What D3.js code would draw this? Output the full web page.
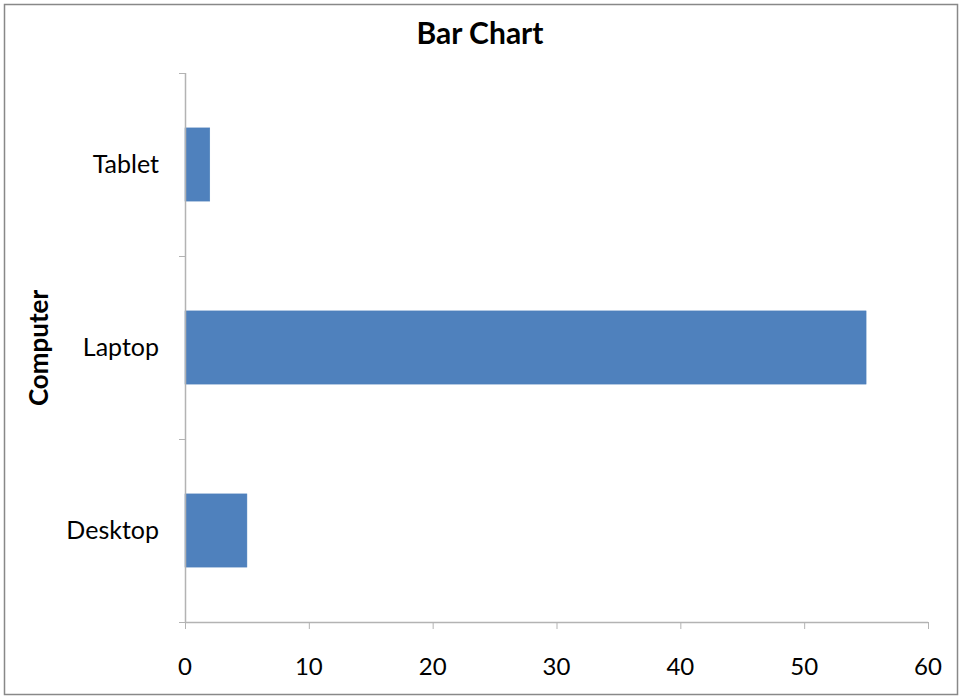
<!DOCTYPE html>
<html><head><meta charset="utf-8">
<script src="https://cdn.jsdelivr.net/npm/d3@7"></script>
<style>body{margin:0;background:#fff}svg{display:block}</style>
</head><body>
<svg id="c" width="961" height="698"></svg>
<script>
const categories = ["Tablet", "Laptop", "Desktop"];
const values = [2, 55, 5];
const xTicks = [0, 10, 20, 30, 40, 50, 60];
const title = "Bar Chart";
const yTitle = "Computer";

const svg = d3.select("#c");
const font = "Lato, 'Open Sans', sans-serif";
svg.append("rect").attr("x", 4.5).attr("y", 4.5).attr("width", 953).attr("height", 690)
  .attr("fill", "#fff").attr("stroke", "#888").attr("stroke-width", 1.5);

const m = {l: 185, r: 928, t: 73, b: 622};
const x = d3.scaleLinear().domain([0, 60]).range([m.l, m.r]);
const y = d3.scaleBand().domain(categories).range([m.t, m.b]).paddingInner(0.6).paddingOuter(0.3);
const yb = d3.scaleBand().domain(categories).range([m.t, m.b]);

svg.append("g").selectAll("rect").data(categories).join("rect")
  .attr("x", x(0)).attr("y", d => y(d))
  .attr("width", (d, i) => x(values[i]) - x(0)).attr("height", y.bandwidth())
  .attr("fill", "#4f81bd").attr("stroke", "#4a7ebb").attr("stroke-width", 0.5);

const ax = "#b3b3b3";
svg.append("line").attr("x1", m.l + 0.5).attr("x2", m.l + 0.5).attr("y1", m.t).attr("y2", m.b).attr("stroke", ax).attr("stroke-width", 1.5);
const bounds = categories.map(c => yb(c)).concat([m.b]);
svg.append("g").selectAll("line").data(bounds).join("line")
  .attr("x1", m.l - 6).attr("x2", m.l).attr("y1", d => d + 0.5).attr("y2", d => d + 0.5)
  .attr("stroke", ax).attr("stroke-width", 1);
svg.append("g").selectAll("text").data(categories).join("text")
  .attr("x", 159).attr("y", d => yb(d) + yb.bandwidth() / 2).attr("dy", "0.35em")
  .attr("text-anchor", "end").attr("font-family", font).attr("font-size", 25).attr("fill", "#000")
  .text(d => d);

svg.append("line").attr("x1", m.l).attr("x2", m.r).attr("y1", m.b + 0.5).attr("y2", m.b + 0.5).attr("stroke", ax).attr("stroke-width", 1.5);
svg.append("g").selectAll("line").data(xTicks).join("line")
  .attr("x1", d => x(d) + 0.5).attr("x2", d => x(d) + 0.5).attr("y1", m.b).attr("y2", m.b + 7)
  .attr("stroke", ax).attr("stroke-width", 1);
svg.append("g").selectAll("text").data(xTicks).join("text")
  .attr("x", d => x(d)).attr("y", 675).attr("text-anchor", "middle")
  .attr("font-family", font).attr("font-size", 24).attr("fill", "#000").text(d => d);

svg.append("text").attr("x", 480).attr("y", 44).attr("text-anchor", "middle")
  .attr("font-family", font).attr("font-size", 30).attr("font-weight", "bold").text(title);
svg.append("text").attr("transform", "translate(48,348) rotate(-90)").attr("text-anchor", "middle")
  .attr("font-family", font).attr("font-size", 26).attr("font-weight", "bold").text(yTitle);
</script>
</body></html>
